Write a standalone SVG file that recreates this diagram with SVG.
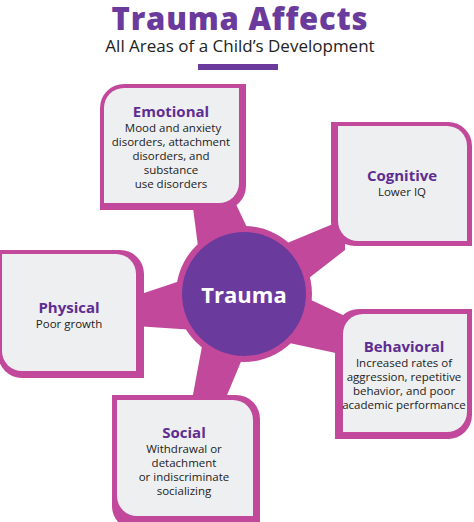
<svg xmlns="http://www.w3.org/2000/svg" width="474" height="522" viewBox="0 0 474 522">
<style>
.frame{fill:#c2489b}
.fill{fill:#eeeff1}
.spoke{fill:#c2489b}
.head{font-family:"Open Sans","Liberation Sans",sans-serif;font-weight:bold;font-size:15px;fill:#5e2d91;text-anchor:middle}
.body{font-family:"Open Sans","Liberation Sans",sans-serif;font-size:11.5px;fill:#222;text-anchor:middle}
</style>
<rect width="474" height="522" fill="#fff"/>
<g id="title">
<text x="240" y="30" font-family="'Open Sans','Liberation Sans',sans-serif" font-weight="800" font-size="31" letter-spacing="0.8" fill="#6a3a9c" text-anchor="middle">Trauma Affects</text>
<text x="240" y="52" font-family="'Open Sans','Liberation Sans',sans-serif" font-size="17" fill="#222" text-anchor="middle">All Areas of a Child’s Development</text>
<rect x="198" y="64" width="80" height="6" fill="#6a3a9c"/>
</g>
<g id="connectors">
<polygon class="spoke" points="192,200 234,200 253,240 200,262"/>
<polygon class="spoke" points="280,246 345,219 345,250 300,285"/>
<polygon class="spoke" points="135,296 195,276 195,330 135,326"/>
<polygon class="spoke" points="290,290 345,316 345,355 280,341"/>
<polygon class="spoke" points="205,330 250,340 225,400 192,400"/>
</g>
<g id="trauma">
<circle cx="244" cy="294" r="68" fill="#c2489b"/>
<circle cx="244" cy="294" r="62" fill="#6b3a9d"/>
<text x="244" y="303" font-family="'Open Sans','Liberation Sans',sans-serif" font-weight="bold" font-size="22" fill="#fff" text-anchor="middle">Trauma</text>
</g>
<g id="emotional">
<path class="frame" d="M124,84 H246 V186 A24,24 0 0 1 222,210 H100 V108 A24,24 0 0 1 124,84 Z"/>
<path class="fill" d="M124,88 H239 V183 A20,20 0 0 1 219,203 H104 V108 A20,20 0 0 1 124,88 Z"/>
<text class="head" x="171" y="117">Emotional</text>
<text class="body" x="173" y="132">Mood and anxiety</text>
<text class="body" x="171" y="146">disorders, attachment</text>
<text class="body" x="171" y="160">disorders, and</text>
<text class="body" x="171" y="174">substance</text>
<text class="body" x="171" y="188">use disorders</text>
</g>
<g id="cognitive">
<path class="frame" d="M331,122 H448 A24,24 0 0 1 472,146 V246 H355 A24,24 0 0 1 331,222 Z"/>
<path class="fill" d="M338,126 H447 A20,20 0 0 1 467,146 V241 H358 A20,20 0 0 1 338,221 Z"/>
<text class="head" x="402" y="181">Cognitive</text>
<text class="body" x="402" y="196">Lower IQ</text>
</g>
<g id="physical">
<path class="frame" d="M-2,250 H120 A24,24 0 0 1 144,274 V378 H22 A24,24 0 0 1 -2,354 Z"/>
<path class="fill" d="M2,254 H116 A20,20 0 0 1 136,274 V371 H22 A20,20 0 0 1 2,351 Z"/>
<text class="head" x="69" y="313">Physical</text>
<text class="body" x="69" y="328">Poor growth</text>
</g>
<g id="behavioral">
<path class="frame" d="M359,309 H472 V415 A24,24 0 0 1 448,439 H335 V333 A24,24 0 0 1 359,309 Z"/>
<path class="fill" d="M363,314 H467 V412 A20,20 0 0 1 447,432 H343 V334 A20,20 0 0 1 363,314 Z"/>
<text class="head" x="404" y="352">Behavioral</text>
<text class="body" x="404" y="367">Increased rates of</text>
<text class="body" x="404" y="381">aggression, repetitive</text>
<text class="body" x="404" y="395">behavior, and poor</text>
<text class="body" x="404" y="409">academic performance</text>
</g>
<g id="social">
<path class="frame" d="M112,395 H236 A24,24 0 0 1 260,419 V530 H136 A24,24 0 0 1 112,506 Z"/>
<path class="fill" d="M117,400 H233 A20,20 0 0 1 253,420 V516 H137 A20,20 0 0 1 117,496 Z"/>
<text class="head" x="184" y="438">Social</text>
<text class="body" x="184" y="453">Withdrawal or</text>
<text class="body" x="184" y="467">detachment</text>
<text class="body" x="184" y="481">or indiscriminate</text>
<text class="body" x="184" y="495">socializing</text>
</g>
</svg>
